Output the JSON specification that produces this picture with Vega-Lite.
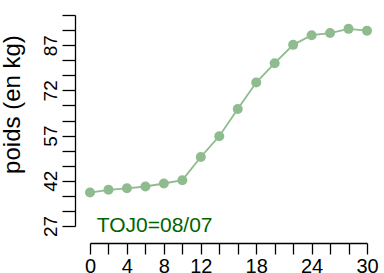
{
  "$schema": "https://vega.github.io/schema/vega-lite/v6.json",
  "autosize": "none",
  "padding": {"left": 90, "top": 15, "right": 17, "bottom": 47},
  "width": 277,
  "height": 211,
  "config": {
    "view": {"stroke": null},
    "font": "Liberation Sans",
    "axis": {"grid": false, "domainColor": "black", "tickColor": "black", "labelColor": "black", "titleColor": "black", "domainWidth": 1.3, "tickWidth": 1.3}
  },
  "datasets": {
    "pts": [
      {"jour": 0, "poids": 38.1},
      {"jour": 2, "poids": 39.0},
      {"jour": 4, "poids": 39.5},
      {"jour": 6, "poids": 40.1},
      {"jour": 8, "poids": 41.1},
      {"jour": 10, "poids": 42.2},
      {"jour": 12, "poids": 49.9},
      {"jour": 14, "poids": 56.8},
      {"jour": 16, "poids": 65.8},
      {"jour": 18, "poids": 74.6},
      {"jour": 20, "poids": 81.0},
      {"jour": 22, "poids": 87.1},
      {"jour": 24, "poids": 90.3},
      {"jour": 26, "poids": 91.0},
      {"jour": 28, "poids": 92.4},
      {"jour": 30, "poids": 91.8}
    ],
    "note": [{"jour": 7, "poids": 25.0, "label": "TOJ0=08/07"}]
  },
  "encoding": {
    "x": {"field": "jour", "type": "quantitative", "scale": {"domain": [0, 30], "nice": false, "zero": false},
      "axis": {"title": null, "values": [0,2,4,6,8,10,12,14,16,18,20,22,24,26,28,30], "offset": 17, "tickSize": 11, "labelPadding": 2, "labelFontSize": 20, "labelOverlap": false, "labelBound": false, "labelFlush": false, "ticks": true, "domain": true,
        "labelExpr": "(datum.value == 0 || datum.value == 4 || datum.value == 8 || datum.value == 12 || datum.value == 18 || datum.value == 24 || datum.value == 30) ? datum.label : ''"}},
    "y": {"field": "poids", "type": "quantitative", "scale": {"domain": [27, 97], "nice": false, "zero": false},
      "axis": {"title": "poids (en kg)", "values": [27,32,37,42,47,52,57,62,67,72,77,82,87,92,97], "offset": 15, "tickSize": 13, "labelPadding": 6, "labelFontSize": 19, "labelAngle": -90, "labelAlign": "center", "labelBaseline": "alphabetic", "labelOverlap": false, "labelBound": false, "labelFlush": false, "ticks": true, "domain": true,
        "labelExpr": "(datum.value == 27 || datum.value == 42 || datum.value == 57 || datum.value == 72 || datum.value == 87) ? datum.label : ''",
        "titleFontSize": 24, "titleFontWeight": "normal", "titleAngle": -90, "titleBaseline": "alphabetic", "titleAlign": "center", "titleX": -56, "titleY": 89}}
  },
  "layer": [
    {
      "data": {"name": "pts"},
      "mark": {"type": "line", "color": "#8fbc8f", "strokeWidth": 1.8}
    },
    {
      "data": {"name": "pts"},
      "mark": {"type": "circle", "color": "#8fbc8f", "size": 100, "opacity": 1}
    },
    {
      "data": {"name": "note"},
      "mark": {"type": "text", "color": "#006400", "fontSize": 21, "align": "center", "baseline": "alphabetic"},
      "encoding": {
        "text": {"field": "label"}
      }
    }
  ]
}
